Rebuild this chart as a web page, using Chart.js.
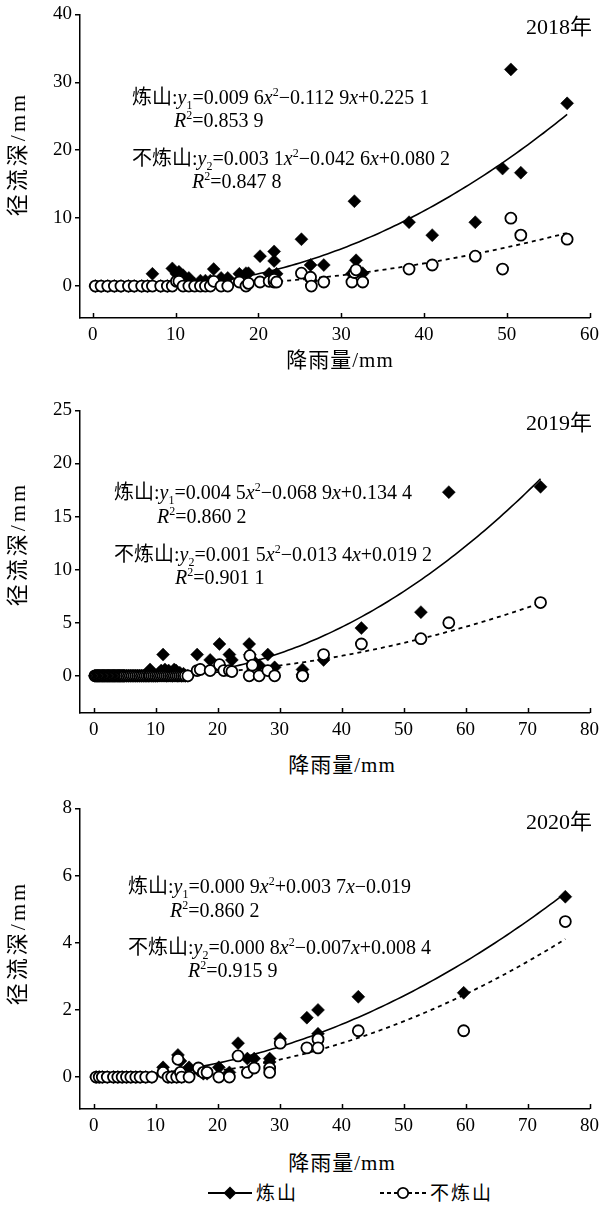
<!DOCTYPE html>
<html><head><meta charset="utf-8">
<script src="https://cdn.jsdelivr.net/npm/chart.js@4.4.0/dist/chart.umd.min.js"></script>
<style>
body{margin:0;width:605px;height:1207px;background:#fff;position:relative;overflow:hidden;font-family:"Liberation Serif","Noto Sans CJK SC",serif;color:#000}
canvas{position:absolute;left:0}
.eq{position:absolute;white-space:nowrap;font-size:20px;line-height:1;font-family:"Liberation Serif","Noto Sans CJK SC",serif}
.eq sub,.eq sup{font-size:12px;line-height:0}
.yr{position:absolute;font-size:22px;line-height:1;white-space:nowrap}
.yt{position:absolute;width:200px;text-align:center;font-size:22px;line-height:1;transform:rotate(-90deg);white-space:nowrap;letter-spacing:3px}
.xt{position:absolute;width:200px;text-align:center;font-size:21px;line-height:1;white-space:nowrap;letter-spacing:1px}
.lg{position:absolute;font-size:19px;line-height:1;white-space:nowrap;letter-spacing:2px}
</style></head><body>
<canvas id="c1"></canvas><canvas id="c2"></canvas><canvas id="c3"></canvas>

<div class="yr" style="left:526px;top:16px">2018年</div>
<div class="yr" style="left:526px;top:412px">2019年</div>
<div class="yr" style="left:526px;top:811px">2020年</div>

<div class="eq" style="left:132px;top:87px">炼山:<i>y</i><sub>1</sub>=0.009 6<i>x</i><sup>2</sup>−0.112 9<i>x</i>+0.225 1</div>
<div class="eq" style="left:174px;top:110px"><i>R</i><sup>2</sup>=0.853 9</div>
<div class="eq" style="left:132px;top:148px">不炼山:<i>y</i><sub>2</sub>=0.003 1<i>x</i><sup>2</sup>−0.042 6<i>x</i>+0.080 2</div>
<div class="eq" style="left:192px;top:171px"><i>R</i><sup>2</sup>=0.847 8</div>

<div class="eq" style="left:114px;top:482px">炼山:<i>y</i><sub>1</sub>=0.004 5<i>x</i><sup>2</sup>−0.068 9<i>x</i>+0.134 4</div>
<div class="eq" style="left:157px;top:506px"><i>R</i><sup>2</sup>=0.860 2</div>
<div class="eq" style="left:114px;top:544px">不炼山:<i>y</i><sub>2</sub>=0.001 5<i>x</i><sup>2</sup>−0.013 4<i>x</i>+0.019 2</div>
<div class="eq" style="left:175px;top:567px"><i>R</i><sup>2</sup>=0.901 1</div>

<div class="eq" style="left:128px;top:876px">炼山:<i>y</i><sub>1</sub>=0.000 9<i>x</i><sup>2</sup>+0.003 7<i>x</i>−0.019</div>
<div class="eq" style="left:170px;top:900px"><i>R</i><sup>2</sup>=0.860 2</div>
<div class="eq" style="left:128px;top:937px">不炼山:<i>y</i><sub>2</sub>=0.000 8<i>x</i><sup>2</sup>−0.007<i>x</i>+0.008 4</div>
<div class="eq" style="left:188px;top:960px"><i>R</i><sup>2</sup>=0.915 9</div>

<div class="yt" style="left:-82px;top:143px">径流深/mm</div>
<div class="yt" style="left:-82px;top:533px">径流深/mm</div>
<div class="yt" style="left:-82px;top:932px">径流深/mm</div>
<div class="xt" style="left:240px;top:350px">降雨量/mm</div>
<div class="xt" style="left:242px;top:755px">降雨量/mm</div>
<div class="xt" style="left:242px;top:1153px">降雨量/mm</div>

<svg style="position:absolute;left:205px;top:1183px" width="50" height="20">
<line x1="3" y1="10" x2="47" y2="10" stroke="#000" stroke-width="2"/>
<polygon points="25,3.5 31.5,10 25,16.5 18.5,10" fill="#000"/></svg>
<div class="lg" style="left:256px;top:1184px">炼山</div>
<svg style="position:absolute;left:378px;top:1183px" width="50" height="20">
<line x1="2" y1="10" x2="48" y2="10" stroke="#000" stroke-width="2" stroke-dasharray="4,3"/>
<circle cx="25" cy="10" r="5.2" fill="#fff" stroke="#000" stroke-width="1.8"/></svg>
<div class="lg" style="left:430px;top:1184px">不炼山</div>

<script>
// ---- 2018 ----
const rain18 = [0.3,1.0,1.8,2.6,3.4,4.3,5.0,5.9,6.6,7.2,8.2,9.0,9.6,10.1,10.4,10.9,11.6,12.3,13.0,13.6,14.2,14.6,15.5,16.3,17.7,18.5,18.8,20.2,21.3,21.9,21.9,22.2,25.2,26.3,26.4,27.9,31.3,31.6,31.8,32.6,38.2,41.0,46.2,49.5,50.5,51.7,57.3];
const burn18 = [0,0,0,0,0,0,0,0,0,1.8,0,0,2.6,1.8,2.1,1.6,1.2,0.3,0.8,0.8,0.8,2.5,1.2,1.2,1.8,1.9,1.9,4.4,1.8,5.1,3.7,1.8,6.9,3.1,0.8,3.1,1.8,12.5,3.8,1.9,9.4,7.5,9.4,17.3,31.9,16.7,26.9];
const noburn18 = [0,0,0,0,0,0,0,0,0,0,0,0,0,0.7,0.7,0,0,0,0,0,0,0.7,0,0,0.6,0,0.4,0.6,0.7,0.6,1.0,0.6,1.9,1.3,0,0.6,0.6,2.0,2.4,0.6,2.5,3.1,4.4,2.5,10.0,7.5,6.9];
const fit18burn = [0.0096,-0.1129,0.2251];
const fit18noburn = [0.0031,-0.0426,0.0802];
// ---- 2019 ----
const rain19 = [0.2,0.4,0.6,0.8,1.0,1.2,1.4,1.6,1.8,2.0,2.2,2.4,2.6,2.8,3.0,3.2,3.4,3.6,3.8,4.0,4.2,4.4,4.6,4.8,5.0,
  5.3,5.6,5.9,6.2,6.5,6.8,7.1,7.4,7.7,8.0,8.3,8.6,8.9,
  9.1,9.4,9.7,10.0,10.3,10.6,10.9,11.2,11.5,11.8,12.1,12.4,12.7,13.0,13.3,13.6,13.9,14.2,14.5,14.8,15.2,
  16.7,17.2,18.8,20.3,21.0,21.9,22.3,25.1,25.2,25.6,26.7,28.1,29.2,33.7,33.7,37.1,43.2,52.8,57.3,72.1];
const burn19 = [0,0,0,0,0,0,0,0,0,0,0,0,0,0,0,0,0,0,0,0,0,0,0,0,0,
  0,0,0,0,0,0,0,0,0,0,0,0,0,
  0.6,0,0,0,0,0.3,0.5,2.0,0.6,0,0.5,0.3,0,0.6,0.5,0,0.3,0,0.2,0,0,
  2.0,0.6,1.5,3.0,0.6,2.0,1.5,3.0,2.0,1.5,1.0,2.0,0.8,0.6,0.1,1.5,4.5,6.0,17.3,17.8];
const noburn19 = [0,0,0,0,0,0,0,0,0,0,0,0,0,0,0,0,0,0,0,0,0,0,0,0,0,
  0,0,0,0,0,0,0,0,0,0,0,0,0,
  0,0,0,0,0,0,0,0,0,0,0,0,0,0,0,0,0,0,0,0,0,
  0.5,0.6,0.5,1.05,0.5,0.5,0.4,0,1.9,1.0,0,0.5,0,0,0,2.0,3.0,3.5,5.0,6.9];
const fit19burn = [0.0045,-0.0689,0.1344];
const fit19noburn = [0.0015,-0.0134,0.0192];
// ---- 2020 ----
const rain20 = [0.4,0.9,1.4,2.2,3.2,3.9,4.6,5.3,6.0,6.8,7.5,8.4,9.4,11.2,12.0,12.6,13.4,13.6,14.0,14.2,15.4,16.9,17.7,18.3,20.2,21.9,23.3,24.8,25.9,28.4,28.4,30.1,34.4,36.2,36.2,42.7,59.7,76.1];
const burn20 = [0,0,0,0,0,0,0,0,0,0,0,0,0,0.29,0,0,0,0.66,0.48,0,0.29,0.2,0.1,0.1,0.29,0.14,1.01,0.55,0.55,0.55,0.45,1.14,1.77,2.0,1.29,2.39,2.51,5.37];
const noburn20 = [0,0,0,0,0,0,0,0,0,0,0,0,0,0.14,0,0,0,0.53,0.14,0,0,0.27,0.14,0.14,0,0,0.63,0.14,0.27,0.27,0.14,1.01,0.87,1.13,0.87,1.38,1.38,4.63];
const fit20burn = [0.0009,0.0037,-0.019];
const fit20noburn = [0.0008,-0.007,0.0084];

const FONT = "'Liberation Serif', 'Times New Roman', serif";

function pts(xs, ys){ return xs.map((x,i)=>({x:x, y:ys[i]})); }
function curve(c, xs){
  const a = Math.min(...xs), b = Math.max(...xs), n = 120, out = [];
  for(let i=0;i<=n;i++){ const x = a + (b-a)*i/n; out.push({x:x, y:c[0]*x*x + c[1]*x + c[2]}); }
  return out;
}

const xTicksIn = {
  id:'xTicksIn',
  afterDraw(chart){
    const ctx = chart.ctx, sx = chart.scales.x, y0 = chart.chartArea.bottom;
    ctx.save(); ctx.strokeStyle='#000'; ctx.lineWidth=1.5;
    sx.ticks.forEach(t=>{ const px = Math.round(sx.getPixelForValue(t.value))+0.5;
      ctx.beginPath(); ctx.moveTo(px,y0); ctx.lineTo(px,y0-5); ctx.stroke(); });
    ctx.restore();
  }
};

const panels = [
  {id:'c1', top:0, H:350, xH:32, xmin:-1.55, xmax:60, ymin:-4.7, ymax:40, ystep:10, rain:rain18, burn:burn18, noburn:noburn18, fa:fit18burn, fb:fit18noburn},
  {id:'c2', top:396, H:350, xH:33, xmin:-2.2, xmax:80, ymin:-3.5, ymax:25, ystep:5, rain:rain19, burn:burn19, noburn:noburn19, fa:fit19burn, fb:fit19noburn},
  {id:'c3', top:794, H:350, xH:35, xmin:-2.2, xmax:80, ymin:-0.95, ymax:8, ystep:2, rain:rain20, burn:burn20, noburn:noburn20, fa:fit20burn, fb:fit20noburn}
];

panels.forEach(p=>{
  const cv = document.getElementById(p.id);
  cv.width = 605; cv.height = p.H; cv.style.top = p.top+'px'; cv.style.width='605px'; cv.style.height=p.H+'px';
  new Chart(cv, {
    type:'scatter',
    data:{datasets:[
      {label:'不炼山', data:pts(p.rain,p.noburn), order:0, pointStyle:'circle', pointRadius:5.5, pointBackgroundColor:'#fff', pointBorderColor:'#000', pointBorderWidth:1.8, showLine:false},
      {label:'炼山', data:pts(p.rain,p.burn), order:1, pointStyle:'rectRot', pointRadius:6.5, pointBackgroundColor:'#000', pointBorderColor:'#000', pointBorderWidth:0.5, showLine:false},
      {type:'line', label:'fitA', data:curve(p.fa,p.rain), order:2, borderColor:'#000', borderWidth:1.6, pointRadius:0, fill:false, tension:0},
      {type:'line', label:'fitB', data:curve(p.fb,p.rain), order:3, borderColor:'#000', borderWidth:1.8, borderDash:[4,4], pointRadius:0, fill:false, tension:0}
    ]},
    options:{
      responsive:false, animation:false, devicePixelRatio:1,
      layout:{padding:{left:0,right:15,top:14,bottom:0}},
      plugins:{legend:{display:false}, tooltip:{enabled:false}},
      scales:{
        x:{type:'linear', min:p.xmin, max:p.xmax,
           afterFit(s){ s.height = p.xH; },
           ticks:{stepSize:10, includeBounds:false, color:'#000', font:{family:FONT,size:19}, padding:6, maxRotation:0},
           grid:{display:false, drawTicks:false},
           border:{display:true, color:'#000', width:1.5}},
        y:{type:'linear', min:p.ymin, max:p.ymax,
           afterFit(s){ s.width = 80; },
           ticks:{stepSize:p.ystep, includeBounds:false, color:'#000', font:{family:FONT,size:19}, padding:3},
           grid:{display:true, drawOnChartArea:false, drawTicks:true, tickLength:5, color:'#000', lineWidth:1.5},
           border:{display:true, color:'#000', width:1.5}}
      }
    },
    plugins:[xTicksIn]
  });
});
</script>
</body></html>
